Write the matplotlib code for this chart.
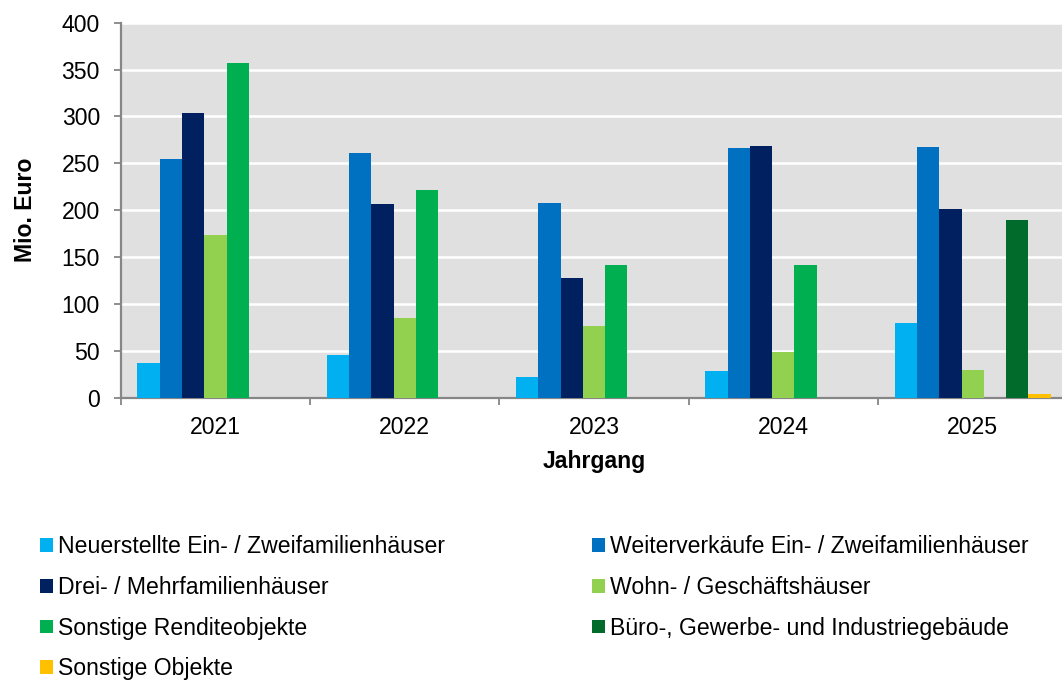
import numpy as np
import matplotlib
matplotlib.use("Agg")
import matplotlib.pyplot as plt

plt.rcParams["font.family"] = ["Liberation Sans", "DejaVu Sans"]

# data
years = ["2021", "2022", "2023", "2024", "2025"]
series_names = [
    "Neuerstellte Ein- / Zweifamilienhäuser",
    "Weiterverkäufe Ein- / Zweifamilienhäuser",
    "Drei- / Mehrfamilienhäuser",
    "Wohn- / Geschäftshäuser",
    "Sonstige Renditeobjekte",
    "Büro-, Gewerbe- und Industriegebäude",
    "Sonstige Objekte",
]
neuerstellte = [37, 45.5, 22, 29, 80]
weiterverkaeufe = [254.5, 261.5, 207.5, 266, 267]
mehrfamilien = [303.5, 207, 127.5, 269, 201]
wohn_geschaeft = [173.5, 85, 76, 49, 29.5]
sonstige_rendite = [356.5, 221.5, 142, 142, 0]
buero_gewerbe = [0, 0, 0, 0, 189.5]
sonstige_objekte = [0, 0, 0, 0, 4]

values = [neuerstellte, weiterverkaeufe, mehrfamilien, wohn_geschaeft,
          sonstige_rendite, buero_gewerbe, sonstige_objekte]
colors = ["#00B0F0", "#0070C0", "#002060", "#92D050", "#00B050", "#006B2A", "#FFC000"]

fs = 16.6

fig = plt.figure(figsize=(10.62, 6.8), dpi=100)
ax = fig.add_axes([0.1137, 0.4151, 0.8913, 0.5515])
ax.set_facecolor("#E0E0E0")

x = np.arange(len(years))
bw = 1 / 8.5
handles = []
for j, (vals, c) in enumerate(zip(values, colors)):
    b = ax.bar(x + (j - 3) * bw, vals, bw, color=c, edgecolor="none", zorder=3)
    handles.append(b)

ax.set_xlim(-0.5, 4.5)
ax.set_ylim(0, 400)
ax.set_yticks(np.arange(0, 401, 50))
ax.yaxis.grid(True, color="white", linewidth=1.8, zorder=1)
ax.set_axisbelow(True)

ax.set_xticks(x)
ax.set_xticklabels(years, fontsize=fs)
ax.set_xticks(np.arange(-0.5, 5, 1), minor=True)
ax.tick_params(axis="x", which="major", length=0, pad=13)
ax.tick_params(axis="x", which="minor", length=5, width=1.3, color="#868686", direction="out")
ax.tick_params(axis="y", length=5, width=1.3, color="#868686", labelsize=fs, pad=10)

for s in ["top", "right"]:
    ax.spines[s].set_visible(False)
for s in ["left", "bottom"]:
    ax.spines[s].set_color("#868686")
    ax.spines[s].set_linewidth(1.6)

ax.set_xlabel("Jahrgang", fontsize=fs, fontweight="bold", labelpad=8)
ax.set_ylabel("Mio. Euro", fontsize=fs, fontweight="bold", labelpad=18)

order = [0, 2, 4, 6, 1, 3, 5]
fig.legend([handles[i] for i in order], [series_names[i] for i in order],
           ncol=2, loc="upper left", bbox_to_anchor=(0.0375, 0.213),
           frameon=False, fontsize=fs, borderpad=0, borderaxespad=0,
           handlelength=0.55, handleheight=0.55, handletextpad=0.23,
           labelspacing=0.77, columnspacing=6.4)

fig.savefig("out.png", dpi=100)
